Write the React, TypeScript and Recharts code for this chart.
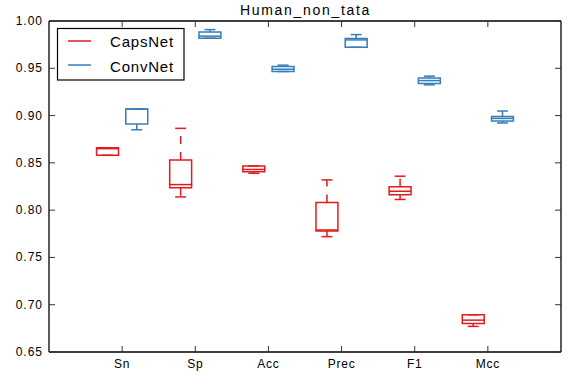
import { ComposedChart, XAxis, YAxis, ReferenceArea, ReferenceLine, Scatter } from "recharts";

const categories = ["Sn", "Sp", "Acc", "Prec", "F1", "Mcc"];
const yTicks = [0.65, 0.7, 0.75, 0.8, 0.85, 0.9, 0.95, 1.0];

// CapsNet five-number summaries, per metric
const capsMin = [0.858, 0.814, 0.839, 0.772, 0.8113, 0.6771];
const capsQ1 = [0.858, 0.8236, 0.8405, 0.778, 0.8162, 0.6802];
const capsMed = [0.865, 0.827, 0.843, 0.779, 0.82, 0.6837];
const capsQ3 = [0.866, 0.853, 0.8468, 0.808, 0.8247, 0.6894];
const capsMax = [0.866, 0.8865, 0.8468, 0.832, 0.8359, 0.6894];

// ConvNet five-number summaries
const convMin = [0.885, 0.9818, 0.9466, 0.9722, 0.9325, 0.8922];
const convQ1 = [0.891, 0.9818, 0.9466, 0.9722, 0.9339, 0.8943];
const convMed = [0.907, 0.984, 0.949, 0.98, 0.937, 0.897];
const convQ3 = [0.907, 0.9884, 0.9519, 0.9814, 0.9396, 0.8991];
const convMax = [0.907, 0.9909, 0.9533, 0.9856, 0.9417, 0.9048];

const RED = "#e41a1c";
const BLUE = "#377eb8";
const FONT = "'Liberation Sans', Arial, sans-serif";

const series = [
  { name: "CapsNet", color: RED, offset: -0.2, min: capsMin, q1: capsQ1, med: capsMed, q3: capsQ3, max: capsMax },
  { name: "ConvNet", color: BLUE, offset: 0.2, min: convMin, q1: convQ1, med: convMed, q3: convQ3, max: convMax },
];

const BOX_HALF = 0.15;
const CAP_HALF = 0.075;

// anchor points so the axes have data to work with
const anchorData = series.flatMap((s) =>
  categories.map((_, i) => ({ x: i + 1 + s.offset, y: s.med[i] }))
);

function BottomTick(props: any) {
  const { x, y, payload } = props;
  return (
    <g>
      <line x1={x} x2={x} y1={y} y2={y - 6} stroke="#333" />
      <text x={x} y={y + 16} textAnchor="middle" fontSize={12} fontFamily={FONT} letterSpacing={0.8} fill="#000">
        {categories[payload.value - 1]}
      </text>
    </g>
  );
}

function TopTick(props: any) {
  const { x, y } = props;
  return <line x1={x} x2={x} y1={y} y2={y + 6} stroke="#333" />;
}

function LeftTick(props: any) {
  const { x, y, payload } = props;
  return (
    <g>
      <line x1={x} x2={x + 6} y1={y} y2={y} stroke="#333" />
      <text x={x - 6} y={y + 4} textAnchor="end" fontSize={12} fontFamily={FONT} letterSpacing={1} fill="#000">
        {Number(payload.value).toFixed(2)}
      </text>
    </g>
  );
}

function RightTick(props: any) {
  const { x, y } = props;
  return <line x1={x} x2={x - 6} y1={y} y2={y} stroke="#333" />;
}

export default function App() {
  const marks: any[] = [];
  series.forEach((s) => {
    categories.forEach((_, i) => {
      const cx = i + 1 + s.offset;
      const k = `${s.name}-${i}`;
      const common = { xAxisId: "b", yAxisId: "l", stroke: s.color, strokeWidth: 1.5, ifOverflow: "visible" as const };
      marks.push(
        <ReferenceLine key={k + "wu"} {...common} strokeDasharray="8 8"
          segment={[{ x: cx, y: s.q3[i] }, { x: cx, y: s.max[i] }]} />,
        <ReferenceLine key={k + "wl"} {...common} strokeDasharray="8 8"
          segment={[{ x: cx, y: s.q1[i] }, { x: cx, y: s.min[i] }]} />,
        <ReferenceLine key={k + "cu"} {...common}
          segment={[{ x: cx - CAP_HALF, y: s.max[i] }, { x: cx + CAP_HALF, y: s.max[i] }]} />,
        <ReferenceLine key={k + "cl"} {...common}
          segment={[{ x: cx - CAP_HALF, y: s.min[i] }, { x: cx + CAP_HALF, y: s.min[i] }]} />,
        <ReferenceArea key={k + "box"} {...common} fill="none" fillOpacity={0}
          x1={cx - BOX_HALF} x2={cx + BOX_HALF} y1={s.q1[i]} y2={s.q3[i]} />,
        <ReferenceLine key={k + "med"} {...common}
          segment={[{ x: cx - BOX_HALF, y: s.med[i] }, { x: cx + BOX_HALF, y: s.med[i] }]} />
      );
    });
  });

  const frame = { stroke: "#000", strokeWidth: 1.3 };

  return (
    <div style={{ position: "absolute", left: 0, top: 0, width: 576, height: 384, background: "#fff" }}>
      <ComposedChart width={576} height={384} margin={{ top: 20, right: 14, bottom: 0, left: 0 }}>
        <XAxis xAxisId="b" dataKey="x" orientation="bottom" type="number" domain={[0, 7]} ticks={[1, 2, 3, 4, 5, 6]}
          height={32} tickSize={0} tickMargin={0} tick={<BottomTick />} axisLine={frame} />
        <XAxis xAxisId="t" dataKey="x" orientation="top" type="number" domain={[0, 7]} ticks={[1, 2, 3, 4, 5, 6]}
          height={1} tickSize={0} tickMargin={0} tick={<TopTick />} axisLine={frame} />
        <YAxis yAxisId="l" dataKey="y" orientation="left" type="number" domain={[0.65, 1.0]} ticks={yTicks}
          width={49} tickSize={0} tickMargin={0} tick={<LeftTick />} axisLine={frame} />
        <YAxis yAxisId="r" dataKey="y" orientation="right" type="number" domain={[0.65, 1.0]} ticks={yTicks}
          width={1} tickSize={0} tickMargin={0} tick={<RightTick />} axisLine={frame} />
        <Scatter data={anchorData} dataKey="y" xAxisId="b" yAxisId="l" isAnimationActive={false} shape={() => <g />} />
        <Scatter data={anchorData} dataKey="y" xAxisId="t" yAxisId="r" isAnimationActive={false} shape={() => <g />} />
        {marks}
      </ComposedChart>
      <svg width={576} height={384} style={{ position: "absolute", left: 0, top: 0, pointerEvents: "none" }}>
        <text x={305.5} y={14.5} textAnchor="middle" fontSize={14} fontFamily={FONT} letterSpacing={1.7} fill="#000">
          Human_non_tata
        </text>
        <rect x={57.5} y={28.5} width={126.5} height={51.5} fill="#fff" stroke="#000" strokeWidth={1.2} />
        {series.map((s, i) => (
          <g key={s.name}>
            <line x1={68} x2={91} y1={41 + i * 24} y2={41 + i * 24} stroke={s.color} strokeWidth={1.5} />
            <text x={110} y={47 + i * 25} fontSize={15} fontFamily={FONT} letterSpacing={0.8} fill="#000">
              {s.name}
            </text>
          </g>
        ))}
      </svg>
    </div>
  );
}
